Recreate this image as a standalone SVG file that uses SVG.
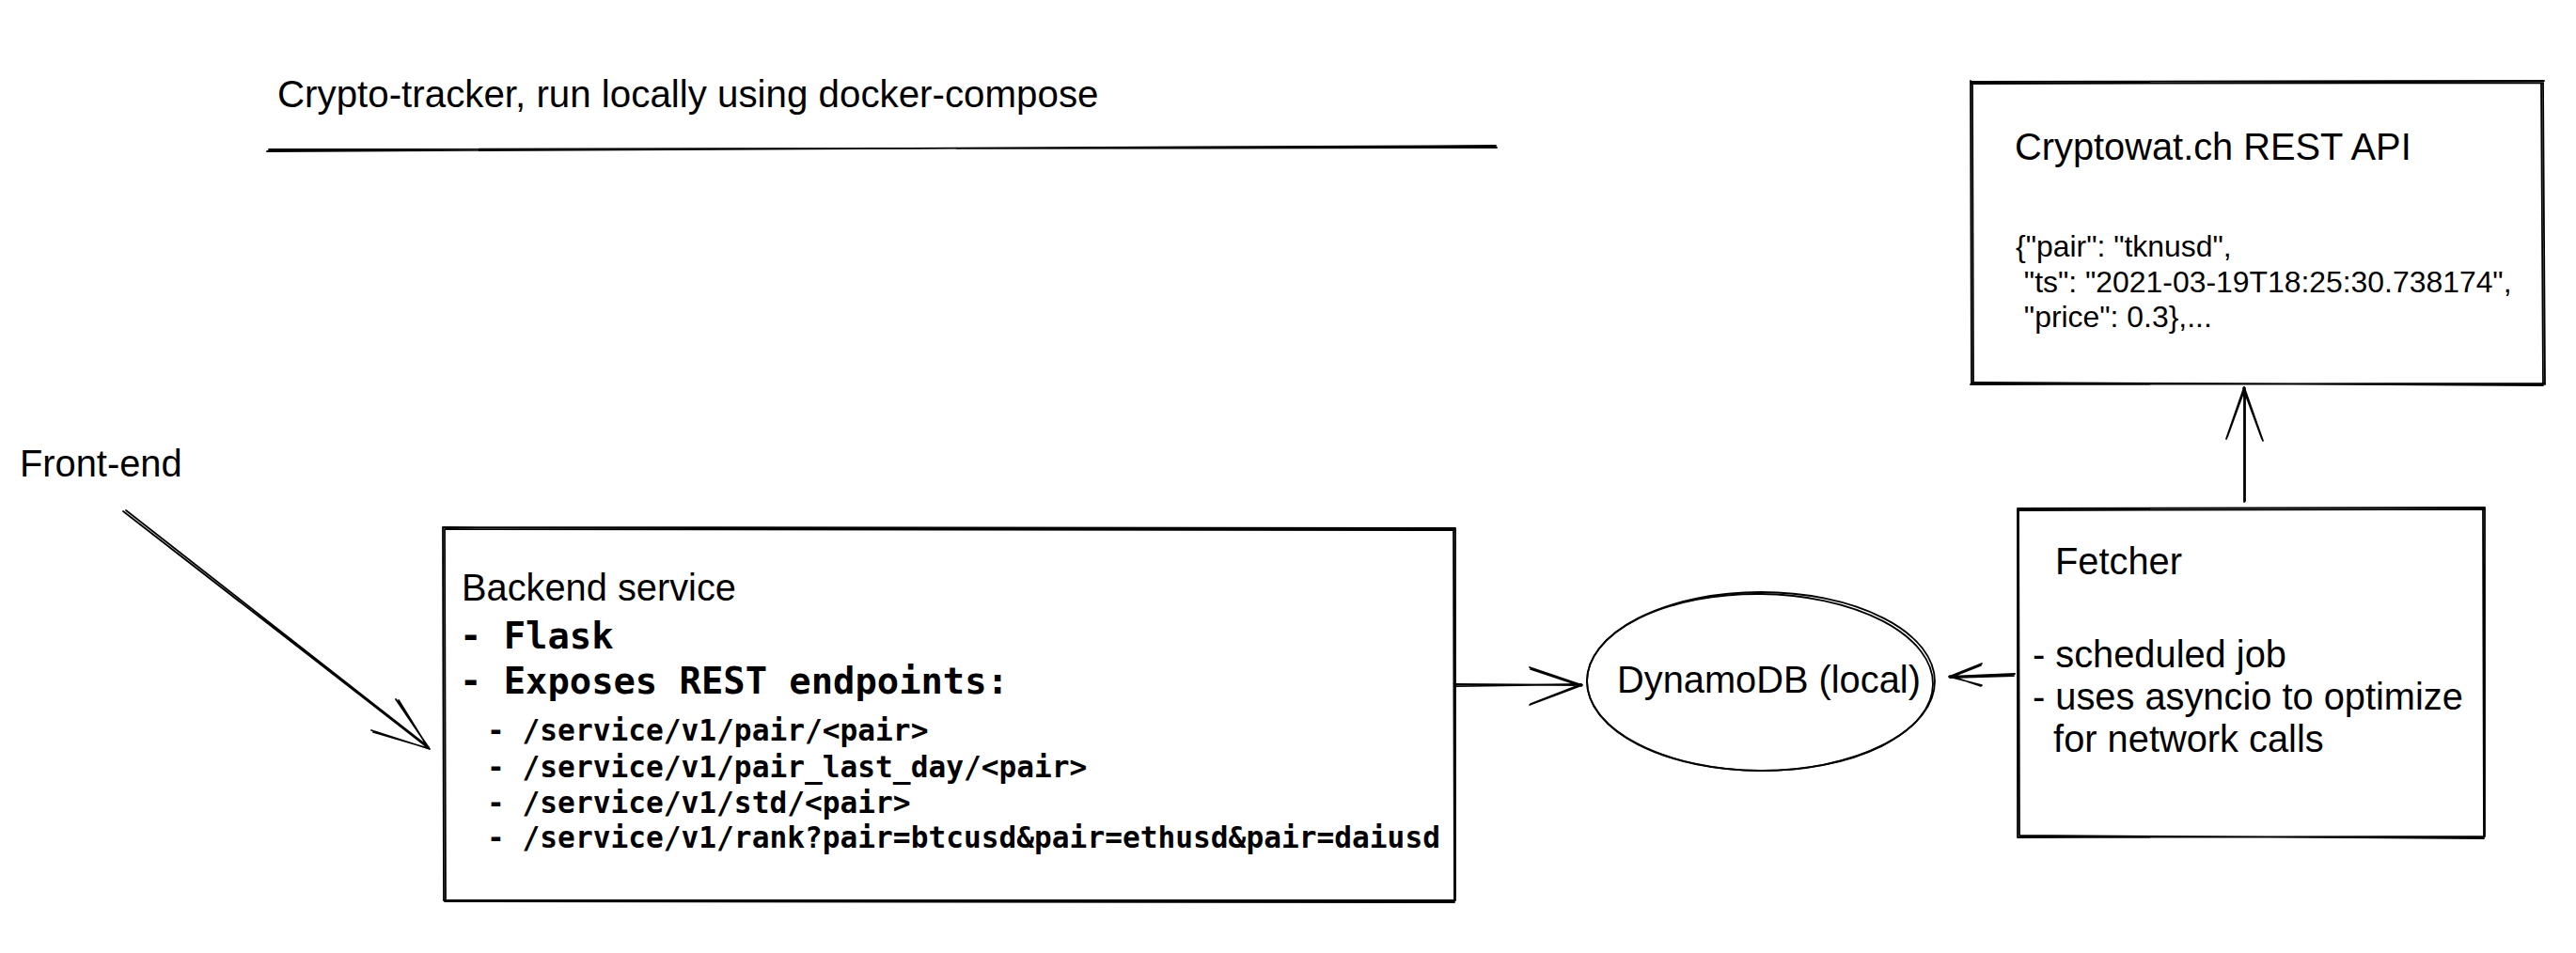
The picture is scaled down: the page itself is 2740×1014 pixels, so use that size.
<svg xmlns="http://www.w3.org/2000/svg" width="2740" height="1014" viewBox="0 0 2740 1014">
<style>
.s{fill:none;stroke:#000;stroke-width:1.8;stroke-linecap:round;stroke-linejoin:round}
.t{font-family:"Liberation Sans",Arial,Helvetica,sans-serif;font-size:39.8px;fill:#000}
.j{font-family:"Liberation Sans",Arial,Helvetica,sans-serif;font-size:31.9px;fill:#000}
.m{font-family:"DejaVu Sans Mono","Liberation Mono",monospace;font-weight:bold;font-size:38.8px;fill:#000}
.ms{font-family:"DejaVu Sans Mono","Liberation Mono",monospace;font-weight:bold;font-size:31.2px;fill:#000}
</style>
<rect width="2740" height="1014" fill="#fff"/>

<g id="title">
<text class="t" x="295" y="114" style="font-size:40.3px">Crypto-tracker, run locally using docker-compose</text>
<path class="s" d="M284,161 C700,159 1200,157 1591,155 M286,159 C800,158 1300,157 1592,157"/>
</g>

<g id="frontend">
<text class="t" x="21" y="507">Front-end</text>
</g>

<g id="cryptowatch">
<path class="s" d="M2096,87 L2706,86 M2097,89 L2705,88 M2705,86 L2707,409 M2703,88 L2705,408 M2707,408 L2096,409 M2705,410 L2098,407 M2097,409 L2096,86 M2099,407 L2098,88"/>
<text class="t" x="2143" y="170">Cryptowat.ch REST API</text>
<text class="j" xml:space="preserve"><tspan x="2144" y="273">{"pair": "tknusd",</tspan><tspan x="2144" y="311"> "ts": "2021-03-19T18:25:30.738174",</tspan><tspan x="2144" y="348"> "price": 0.3},...</tspan></text>
</g>

<g id="backend">
<path class="s" d="M472,561 L1548,562 M474,563 L1547,564 M1548,562 L1548,958 M1546,564 L1547,957 M1548,958 L472,958 M1547,960 L473,959 M472,958 L471,561 M474,957 L473,563"/>
<text class="t" x="491" y="639">Backend service</text>
<text class="m" x="489" y="690">- Flask</text>
<text class="m" x="489" y="738">- Exposes REST endpoints:</text>
<text class="ms" x="518" y="788">- /service/v1/pair/&lt;pair&gt;</text>
<text class="ms" x="518" y="827">- /service/v1/pair_last_day/&lt;pair&gt;</text>
<text class="ms" x="518" y="865">- /service/v1/std/&lt;pair&gt;</text>
<text class="ms" x="518" y="902">- /service/v1/rank?pair=btcusd&amp;pair=ethusd&amp;pair=daiusd</text>
</g>

<g id="dynamodb">
<ellipse class="s" cx="1873" cy="725" rx="185" ry="95"/>
<ellipse class="s" cx="1872" cy="726" rx="184" ry="94" transform="rotate(0.6 1872 726)"/>
<text class="t" x="1720" y="737">DynamoDB (local)</text>
</g>

<g id="fetcher">
<path class="s" d="M2146,541 L2643,540 M2148,543 L2642,542 M2643,540 L2643,890 M2641,542 L2642,889 M2643,890 L2146,891 M2642,892 L2148,889 M2146,891 L2146,541 M2148,889 L2147,543"/>
<text class="t" x="2186" y="611">Fetcher</text>
<text class="t" xml:space="preserve"><tspan x="2162" y="710">- scheduled job</tspan><tspan x="2162" y="755">- uses asyncio to optimize</tspan><tspan x="2162" y="800">  for network calls</tspan></text>
</g>

<g id="connectors">
<path class="s" d="M131,544 L457,797 M134,543 L456,795 M457,797 L395,777 M455,796 L397,779 M457,797 L421,744 M455,795 L424,745"/>
<path class="s" d="M1548,728 L1683,729 M1549,730 L1682,728 M1683,729 L1627,710 M1682,730 L1628,712 M1683,729 L1627,750 M1682,728 L1628,749"/>
<path class="s" d="M2143,717 L2073,720 M2142,719 L2074,721 M2073,720 L2108,706 M2074,721 L2107,708 M2073,720 L2108,729 M2074,719 L2107,730"/>
<path class="s" d="M2387,534 L2387,412 M2388,533 L2388,413 M2387,412 L2368,467 M2388,413 L2369,465 M2387,412 L2407,469 M2386,413 L2406,467"/>
</g>
</svg>
